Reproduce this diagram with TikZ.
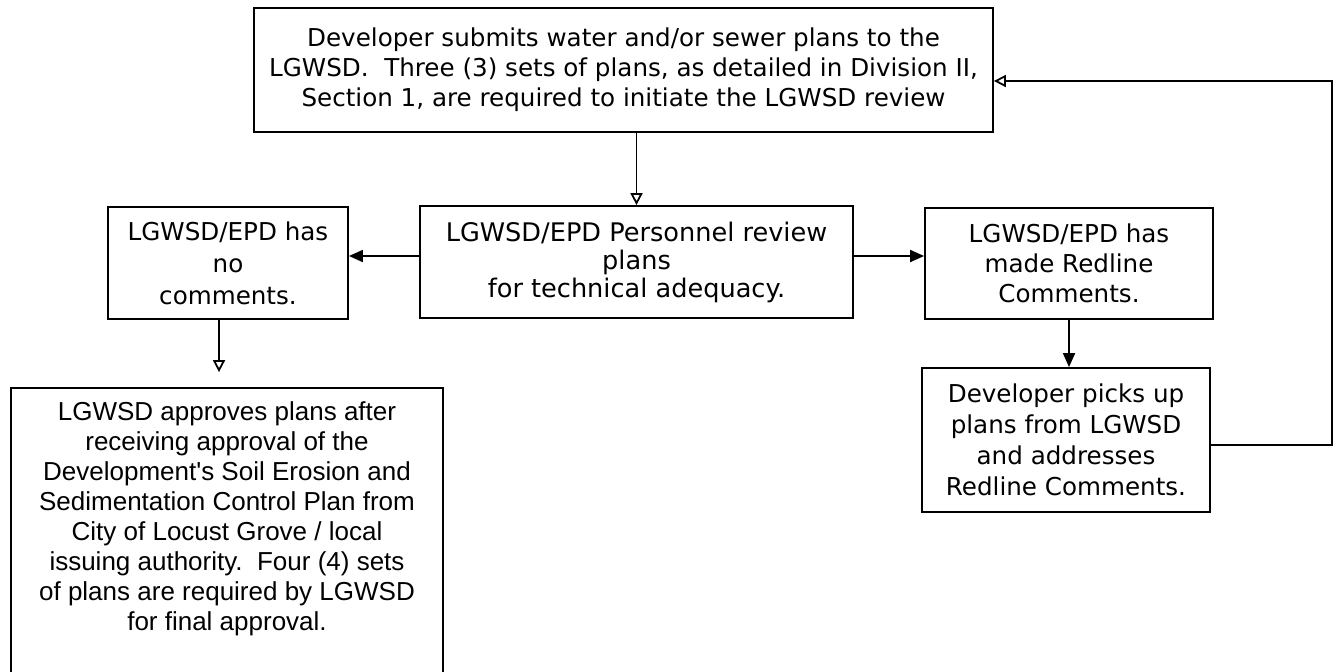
\documentclass[tikz,border=0pt]{standalone}
\usepackage{fontspec}
\setmainfont{DejaVu Sans}
\newfontfamily\arialfont{Liberation Sans}
\usetikzlibrary{arrows.meta,calc}

\begin{document}
\begin{tikzpicture}[x=0.5pt,y=-0.5pt,
		box/.style={draw,line width=0.9pt,align=center,inner sep=0pt,font=\fontsize{12.3}{15}\selectfont},
		flow/.style={line width=0.9pt,-{Triangle[length=7pt,width=6pt]}},
		openflow/.style={line width=0.9pt,-{Triangle[open,length=6pt,width=6pt]}}]
		\path[use as bounding box,clip] (0,0) rectangle (1336,671);
		\node[box,minimum width=369.5pt,minimum height=62pt] (submit) at (623.5,70) {Developer submits water and/or sewer plans to the\\LGWSD.\ \ Three (3) sets of plans, as detailed in Division II,\\Section 1, are required to initiate the LGWSD review};
		\node[box,minimum width=216.5pt,minimum height=56pt,font=\fontsize{12.8}{14}\selectfont] (review) at (636.5,262) {LGWSD/EPD Personnel review\\plans\\for technical adequacy.};
		\node[box,minimum width=120pt,minimum height=56pt,font=\fontsize{12.3}{16}\selectfont] (nocomm) at (228,263) {LGWSD/EPD has\\no\\comments.};
		\node[box,minimum width=144pt,minimum height=55.5pt] (redline) at (1069,263.5) {LGWSD/EPD has\\made Redline\\Comments.};
		\node[box,minimum width=144pt,minimum height=72pt,font=\fontsize{12.3}{15.5}\selectfont] (pickup) at (1066,440) {Developer picks up\\plans from LGWSD\\and addresses\\Redline Comments.};
		\node[box,draw=none,minimum width=215pt,minimum height=130pt,font=\arialfont\fontsize{13}{15}\selectfont] (approve) at (227,519) {LGWSD approves plans after\\receiving approval of the\\Development's Soil Erosion and\\Sedimentation Control Plan from\\City of Locust Grove / local\\issuing authority.\ \ Four (4) sets\\of plans are required by LGWSD\\for final approval.};
		%box runs past the page
		\draw[line width=0.9pt] ([yshift=-40pt]approve.south west) -- (approve.north west) -- (approve.north east) -- ([yshift=-40pt]approve.south east);
		%connectors
		\coordinate (loop) at (1332,445);
		\draw[openflow] (review.north |- submit.south) -- (review.north);
		\draw[flow] ([yshift=3pt]review.west) -- ([yshift=3pt]review.west -| nocomm.east);
		\draw[flow] ([yshift=3pt]review.east) -- ([yshift=3pt]review.east -| redline.west);
		\draw[flow] (redline.south) -- (redline.south |- pickup.north);
		\draw[openflow] ([xshift=-4.5pt]nocomm.south) -- ([xshift=-4.5pt,yshift=8pt]approve.north -| nocomm.south);
		\draw[openflow] (pickup.east |- loop) -- (loop) |- ([yshift=-5.5pt]submit.east);
\end{tikzpicture}
\end{document}
